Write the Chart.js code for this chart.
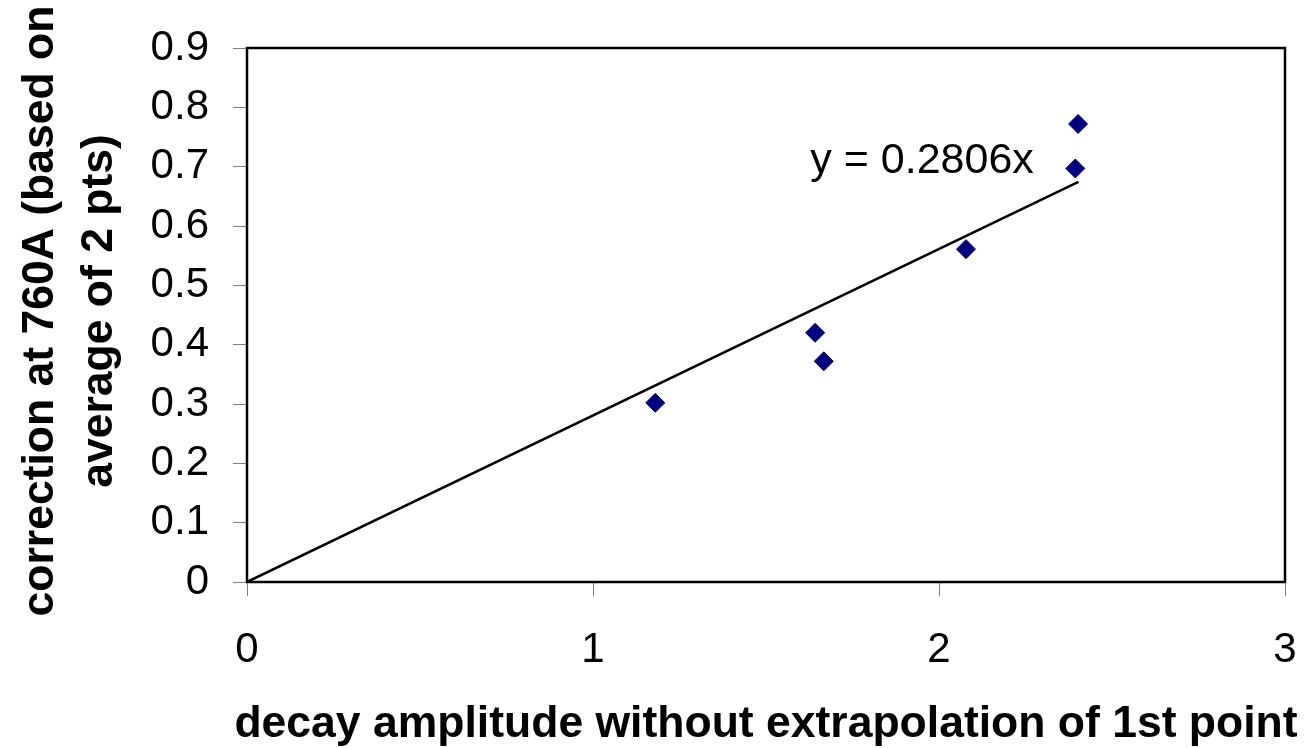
<!DOCTYPE html>
<html>
<head>
<meta charset="utf-8">
<script src="https://cdn.jsdelivr.net/npm/chart.js@4/dist/chart.umd.min.js"></script>
<style>
  html, body { margin: 0; padding: 0; background: #fff; }
  #wrap { width: 1307px; height: 748px; }
</style>
</head>
<body>
<div id="wrap"><canvas id="chart" width="1307" height="748"></canvas></div>
<script>
/* ── Data ─────────────────────────────────────────────────── */

const decayAmp   = [1.18, 1.642, 1.667, 2.078, 2.394, 2.402];
const correction = [0.302, 0.420, 0.372, 0.561, 0.697, 0.772];

// trendline through origin, label
const slope = 0.2806;
const trendX = [0, 2.403];
const trendLabel = 'y = 0.2806x';
const trendLabelAt = [1.628, 0.690];

const xTicks = [0, 1, 2, 3];
const yTicks = [0, 0.1, 0.2, 0.3, 0.4, 0.5, 0.6, 0.7, 0.8, 0.9];

const xTitle = 'decay amplitude without extrapolation of 1st point';
const yTitle = ['correction at 760A (based on', 'average of 2 pts)'];

/* ── Helpers ──────────────────────────────────────────────── */

const FONT = "'Liberation Sans', Arial, sans-serif";

const points = decayAmp.map((x, i) => ({ x, y: correction[i] }));
const trend = trendX.map((x) => ({ x, y: slope * x }));

// no extra room for overhanging tick labels, the layout is fixed
function fixPadding(s) {
  s.paddingLeft = 0;
  s.paddingRight = 0;
  s.paddingTop = 0;
  s.paddingBottom = 0;
}

// frame, equation label and axis titles (drawn here so they are not squeezed)
const framePlugin = {
  id: 'frame',
  afterDatasetsDraw(chart) {
    const { ctx, chartArea: a, scales } = chart;
    ctx.save();
    ctx.strokeStyle = '#000';
    ctx.lineWidth = 2.5;
    ctx.strokeRect(a.left, a.top, a.right - a.left, a.bottom - a.top);

    ctx.fillStyle = '#000';
    ctx.font = '43px ' + FONT;
    ctx.textAlign = 'left';
    ctx.textBaseline = 'alphabetic';
    ctx.fillText(trendLabel,
      scales.x.getPixelForValue(trendLabelAt[0]),
      scales.y.getPixelForValue(trendLabelAt[1]));

    ctx.font = 'bold 44.5px ' + FONT;
    ctx.textAlign = 'center';
    ctx.fillText(xTitle, (a.left + a.right) / 2, chart.height - 11);

    ctx.translate(0, (a.top + a.bottom) / 2 - 4);
    ctx.rotate(-Math.PI / 2);
    yTitle.forEach((line, i) => ctx.fillText(line, 0, 53 + i * 59));
    ctx.restore();
  },
};

/* ── Chart ────────────────────────────────────────────────── */

new Chart(document.getElementById('chart'), {
  type: 'scatter',
  data: {
    datasets: [
      {
        type: 'line',
        data: trend,
        borderColor: '#000',
        borderWidth: 2.5,
        pointRadius: 0,
        fill: false,
      },
      {
        data: points,
        pointStyle: 'rectRot',
        pointRadius: 9.5,
        backgroundColor: '#000080',
        borderColor: '#000080',
        borderWidth: 1,
      },
    ],
  },
  options: {
    responsive: false,
    animation: false,
    layout: { padding: { top: 48, right: 22, left: 0, bottom: 0 } },
    plugins: { legend: { display: false }, tooltip: { enabled: false } },
    scales: {
      x: {
        type: 'linear',
        min: 0,
        max: 3,
        afterBuildTicks: (s) => { s.ticks = xTicks.map((v) => ({ value: v })); },
        afterFit: (s) => { s.height = 166; fixPadding(s); },
        grid: { drawOnChartArea: false, tickLength: 14, tickColor: '#808080', tickWidth: 1 },
        border: { display: false },
        ticks: { color: '#000', padding: 29, font: { family: FONT, size: 42 } },
        title: { display: false },
      },
      y: {
        type: 'linear',
        min: 0,
        max: 0.9,
        afterBuildTicks: (s) => { s.ticks = yTicks.map((v) => ({ value: v })); },
        afterFit: (s) => { s.width = 247; fixPadding(s); },
        grid: { drawOnChartArea: false, tickLength: 14, tickColor: '#808080', tickWidth: 1 },
        border: { display: false },
        ticks: { color: '#000', padding: 24, font: { family: FONT, size: 42 } },
        title: { display: false },
      },
    },
  },
  plugins: [framePlugin],
});
</script>
</body>
</html>
